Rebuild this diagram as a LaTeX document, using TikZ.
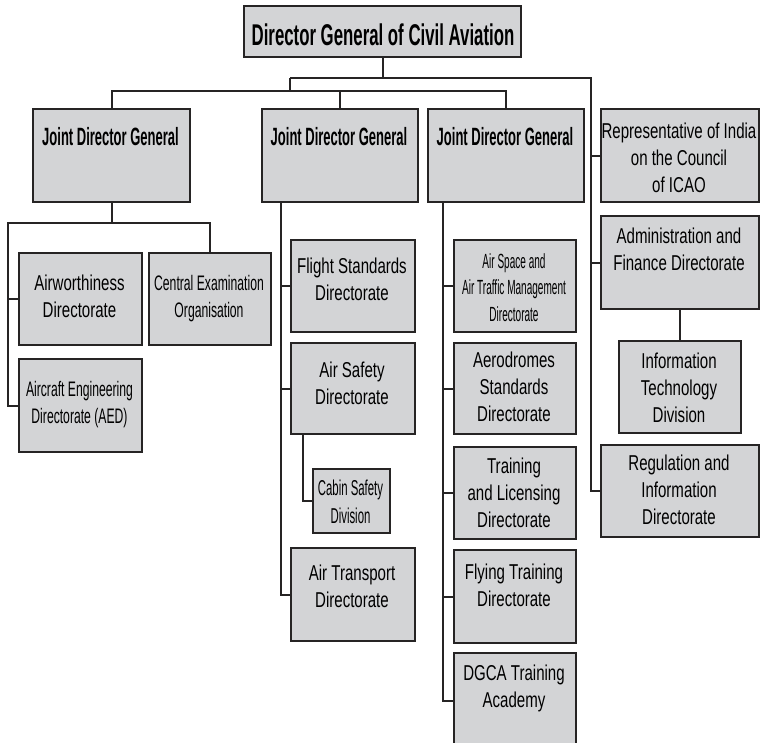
\documentclass[tikz,border=0pt]{standalone}
\usepackage{fontspec}
\setmainfont{Liberation Sans}
\newfontfamily\fR{Liberation Sans}[FakeStretch=0.70]
\newfontfamily\fRb{Liberation Sans}[FakeStretch=0.58]
\newfontfamily\fRc{Liberation Sans}[FakeStretch=0.49]
\newfontfamily\fRd{Liberation Sans}[FakeStretch=0.53]
\newfontfamily\fB{Liberation Sans}[FakeStretch=0.52]
\newfontfamily\fBt{Liberation Sans}[FakeStretch=0.56]
\definecolor{boxc}{HTML}{D3D4D6}
\definecolor{linec}{HTML}{262424}
\tikzset{
  box/.style={draw=linec, line width=2.2pt, fill=boxc, rectangle, inner sep=0pt},
  conn/.style={draw=linec, line width=2.2pt},
  txt/.style={inner sep=0pt, align=center, text=black, anchor=base},
  reg/.style={font=\fR\fontsize{21.5}{27}\selectfont},
  regb/.style={font=\fRb\fontsize{21}{27}\selectfont},
  regc/.style={font=\fRc\fontsize{20.5}{26.5}\selectfont},
  regd/.style={font=\fRd\fontsize{21.5}{28}\selectfont},
  bld/.style={font=\fB\bfseries\fontsize{25}{30}\selectfont},
  ttl/.style={font=\fBt\bfseries\fontsize{30}{36}\selectfont}
}
\newcommand\bx[5]{\node[box, anchor=north west, minimum width=#4pt-#2pt, minimum height=#5pt-#3pt] (#1) at (#2,#3) {};}
\begin{document}
\begin{tikzpicture}[x=1pt,y=-1pt]
\useasboundingbox (0,0) rectangle (760,742);
\clip (0,0) rectangle (760,742);
% boxes
\bx{dg}{243}{5}{520}{56}
\bx{j1}{32}{108}{189}{201}
\bx{j2}{261}{108}{417}{201}
\bx{j3}{427}{108}{583}{201}
\bx{rep}{600}{108}{758}{201}
\bx{adm}{600}{215}{758}{308}
\bx{it}{618}{340}{740}{432}
\bx{rg}{600}{444}{758}{536}
\bx{aw}{18}{252}{141}{344}
\bx{ceo}{148}{252}{270}{344}
\bx{aed}{18}{358}{141}{451}
\bx{fs}{290}{239}{414}{331}
\bx{as}{290}{342}{414}{433}
\bx{cs}{312}{468}{389}{532}
\bx{at}{290}{547}{414}{640}
\bx{asp}{453}{239}{575}{331}
\bx{aer}{453}{342}{575}{433}
\bx{tl}{453}{446}{575}{538}
\bx{ft}{453}{549}{575}{642}
\bx{dgca}{453}{652}{575}{748}
% texts (anchor base = baseline of last line)
\node[txt,ttl] (dgt) at (383,45) {Director General of Civil Aviation};
\node[txt,bld] (j1t) at (110.5,145) {Joint Director General};
\node[txt,bld] (j2t) at (339,145) {Joint Director General};
\node[txt,bld] (j3t) at (505,145) {Joint Director General};
\node[txt,reg] (rept) at (679,192) {Representative of India\\on the Council\\of ICAO};
\node[txt,reg] (admt) at (679,270) {Administration and\\Finance Directorate};
\node[txt,reg] (itt) at (679,422) {Information\\Technology\\Division};
\node[txt,reg] (rgt) at (679,524) {Regulation and\\Information\\Directorate};
\node[txt,reg] (awt) at (79.5,317) {Airworthiness\\Directorate};
\node[txt,regb] (ceot) at (209,317) {Central Examination\\Organisation};
\node[txt,regb] (aedt) at (79.5,423) {Aircraft Engineering\\Directorate (AED)};
\node[txt,reg] (fst) at (352,300) {Flight Standards\\Directorate};
\node[txt,reg] (ast) at (352,404) {Air Safety\\Directorate};
\node[txt,regd] (cst) at (350.5,523) {Cabin Safety\\Division};
\node[txt,reg] (att) at (352,607) {Air Transport\\Directorate};
\node[txt,regc] (aspt) at (514,321) {Air Space and\\Air Traffic Management\\Directorate};
\node[txt,reg] (aert) at (514,421) {Aerodromes\\Standards\\Directorate};
\node[txt,reg] (tlt) at (514,527) {Training\\and Licensing\\Directorate};
\node[txt,reg] (ftt) at (514,606) {Flying Training\\Directorate};
\node[txt,reg] (dgcat) at (514,707) {DGCA Training\\Academy};
% connectors
\coordinate (h1l) at (290,78);
\coordinate (h1r) at (591,78);
\coordinate (h2) at (290,91);
\draw[conn] (dg.south) -- (dg.south |- h1l);
\draw[conn] (h1l) -- (h1r) -- (h1r |- rg.west) -- (rg.west);
\draw[conn] (h1r |- rep.west) -- (rep.west);
\draw[conn] (h1r |- adm.west) -- (adm.west);
\draw[conn] (adm.south) -- (it.north);
\draw[conn] (h1l) -- (h2);
\draw[conn] (j1.north) -- (j1.north |- h2) -- (j3.north |- h2) -- (j3.north);
\draw[conn] (j2.north) -- (j2.north |- h2);
% JDG 1 subtree
\coordinate (h3l) at (8,223);
\draw[conn] (j1.south) -- (j1.south |- h3l);
\draw[conn] (ceo.north) -- (ceo.north |- h3l) -- (h3l) |- (aed.west);
\draw[conn] (h3l |- aw.west) -- (aw.west);
% JDG 2 subtree
\coordinate (t2) at ([xshift=20pt]j2.south west);
\draw[conn] (t2) |- (at.west);
\draw[conn] (t2 |- fs.west) -- (fs.west);
\draw[conn] (t2 |- as.west) -- (as.west);
\coordinate (t2b) at ([xshift=13pt]as.south west);
\draw[conn] (t2b) |- (cs.west);
% JDG 3 subtree
\coordinate (t3) at ([xshift=16pt]j3.south west);
\draw[conn] (t3) |- (dgca.west);
\draw[conn] (t3 |- asp.west) -- (asp.west);
\draw[conn] (t3 |- aer.west) -- (aer.west);
\draw[conn] (t3 |- tl.west) -- (tl.west);
\draw[conn] (t3 |- ft.west) -- (ft.west);
\end{tikzpicture}
\end{document}
